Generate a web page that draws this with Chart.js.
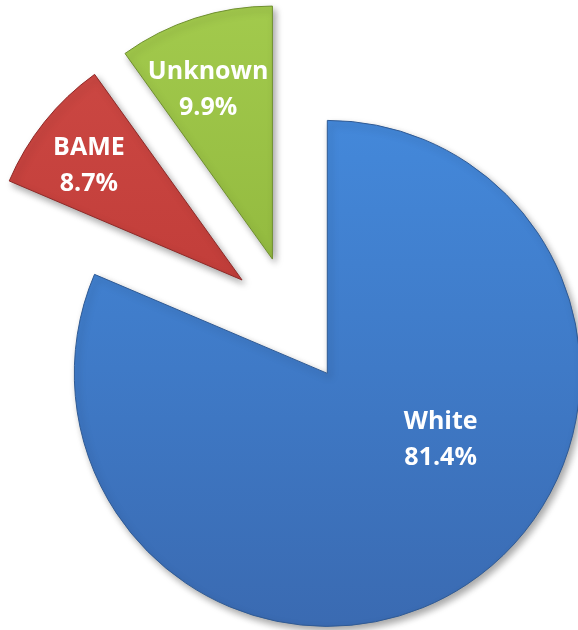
<!DOCTYPE html>
<html>
<head>
<meta charset="utf-8">
<script src="https://cdn.jsdelivr.net/npm/chart.js@4"></script>
<style>
    html, body { margin: 0; padding: 0; background: #ffffff; }
    #wrap { width: 578px; height: 630px; }
</style>
</head>
<body>
<div id="wrap"><canvas id="pieChart"></canvas></div>
<script>
// Ethnicity split - exploded pie

const categories = ['White', 'BAME', 'Unknown'];
const shares = [81.4, 8.7, 9.9];

// top / middle / bottom shades for each slice
const shadeStops = [
    ['#458CDF', '#3F7AC7', '#3967AD'],
    ['#D04C47', '#C23E3A', '#A83330'],
    ['#A6CE50', '#94BB40', '#80A236']
];
const edgeColors = ['#2F5A94', '#8E2A28', '#6F8F2F'];

// label placement tweaks (fraction of radius, turn in degrees)
const labelReach = [0.52, 0.755, 0.715];
const labelTurn = [-26, -2, -3];

function sliceFill(context) {
    const chart = context.chart;
    const i = context.dataIndex;
    const g = chart.ctx.createLinearGradient(0, 0, 0, chart.height);
    g.addColorStop(0, shadeStops[i][0]);
    g.addColorStop(0.5, shadeStops[i][1]);
    g.addColorStop(1, shadeStops[i][2]);
    return g;
}

// how much Chart.js grows an arc when offset is used
function growth(arc) {
    const shift = (arc.options.offset || 0) / 4;
    return shift * (1 - Math.sin(Math.min(Math.PI, arc.circumference)));
}

// Chart.js grows arcs and trims their angle when offset is used; undo that
// so every exploded slice keeps the same radius and its true angle.
const explodeFix = {
    id: 'explodeFix',
    afterDatasetUpdate(chart, args) {
        args.meta.data.forEach(arc => {
            const grow = growth(arc);
            const r = arc.outerRadius;
            arc.outerRadius = r - grow;
            const widen = (grow / Math.PI) / r / 2;
            arc.startAngle -= widen;
            arc.endAngle += widen;
        });
    }
};

const softShadow = {
    id: 'softShadow',
    beforeDatasetDraw(chart) {
        const ctx = chart.ctx;
        ctx.save();
        ctx.shadowColor = 'rgba(0, 0, 0, 0.35)';
        ctx.shadowBlur = 7;
        ctx.shadowOffsetX = 3;
        ctx.shadowOffsetY = 4;
    },
    afterDatasetDraw(chart) {
        chart.ctx.restore();
    }
};

const sliceLabels = {
    id: 'sliceLabels',
    afterDatasetsDraw(chart) {
        const ctx = chart.ctx;
        const meta = chart.getDatasetMeta(0);
        ctx.save();
        ctx.fillStyle = '#ffffff';
        ctx.font = 'bold 25px "Open Sans", sans-serif';
        ctx.textAlign = 'center';
        ctx.textBaseline = 'middle';
        meta.data.forEach((arc, i) => {
            const mid = (arc.startAngle + arc.endAngle) / 2;
            const shift = (arc.options.offset || 0) / 4;
            const ax = arc.x + Math.cos(mid) * shift;
            const ay = arc.y + Math.sin(mid) * shift;
            const a = mid + labelTurn[i] * Math.PI / 180;
            const d = (arc.outerRadius + growth(arc)) * labelReach[i];
            const x = ax + Math.cos(a) * d;
            const y = ay + Math.sin(a) * d;
            ctx.fillText(categories[i], x, y - 18);
            ctx.fillText(shares[i].toFixed(1) + '%', x, y + 18);
        });
        ctx.restore();
    }
};

document.addEventListener('DOMContentLoaded', function() {
    const ctx = document.getElementById('pieChart').getContext('2d');
    new Chart(ctx, {
        type: 'pie',
        data: {
            labels: categories,
            datasets: [{
                data: shares,
                backgroundColor: sliceFill,
                borderColor: edgeColors,
                borderWidth: 1,
                offset: [256, 256, 256]
            }]
        },
        options: {
            responsive: true,
            maintainAspectRatio: false,
            animation: false,
            radius: 253,
            layout: { padding: { left: 6, top: 10 } },
            plugins: {
                legend: { display: false },
                tooltip: { enabled: false }
            }
        },
        plugins: [explodeFix, softShadow, sliceLabels]
    });
});
</script>
</body>
</html>
